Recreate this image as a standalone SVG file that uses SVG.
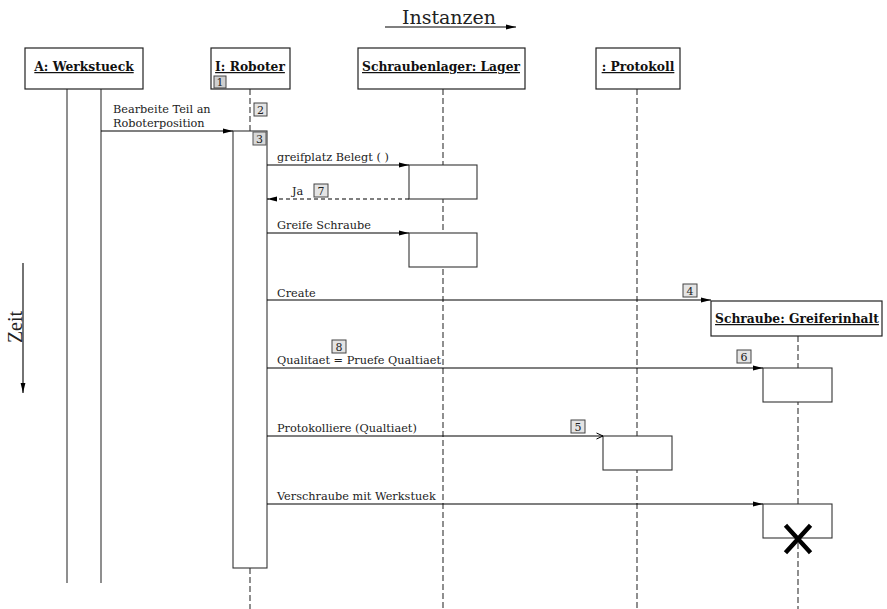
<svg xmlns="http://www.w3.org/2000/svg" width="887" height="609" viewBox="0 0 887 609">
  <defs>
    <marker id="arrowFilled" viewBox="0 0 10 6" refX="10" refY="3" markerWidth="10" markerHeight="6" markerUnits="userSpaceOnUse" orient="auto">
      <path d="M0,0.6 L10,3 L0,5.4 Z" fill="#000"/>
    </marker>
    <marker id="arrowOpen" viewBox="0 0 8 8" refX="7.5" refY="4" markerWidth="8" markerHeight="8" markerUnits="userSpaceOnUse" orient="auto">
      <path d="M1,1 L7.5,4 L1,7" fill="none" stroke="#000" stroke-width="1"/>
    </marker>
  </defs>
  <style>
    .box { fill: #fff; stroke: #222; stroke-width: 1.2; }
    .act { fill: #fff; stroke: #333; stroke-width: 1.1; }
    .life { stroke: #333; stroke-width: 1.1; stroke-dasharray: 6 3; fill: none; }
    .solid { stroke: #333; stroke-width: 1.1; fill: none; }
    .msg { stroke: #000; stroke-width: 1.1; fill: none; marker-end: url(#arrowFilled); }
    .ret { stroke: #000; stroke-width: 1.1; fill: none; stroke-dasharray: 4 3; marker-end: url(#arrowFilled); }
    .title { font-family: "DejaVu Serif", "Liberation Serif", serif; font-weight: bold; font-size: 12.3px; fill: #111; text-decoration: underline; }
    .label { font-family: "DejaVu Serif", "Liberation Serif", serif; font-size: 11.3px; fill: #222; }
    .big { font-family: "DejaVu Serif", "Liberation Serif", serif; font-size: 19px; fill: #222; }
    .time { font-family: "Liberation Serif", "DejaVu Serif", serif; font-size: 20px; fill: #222; }
    .numbox { fill: #e4e4e4; stroke: #444; stroke-width: 1; }
    .num { font-family: "DejaVu Serif", "Liberation Serif", serif; font-size: 11px; fill: #222; text-anchor: middle; }
  </style>

  <rect width="887" height="609" fill="#fff"/>

  <!-- axis labels -->
  <g id="axis-instanzen">
    <text class="big" x="449" y="24" text-anchor="middle">Instanzen</text>
    <line x1="385" y1="27" x2="516" y2="27" stroke="#000" stroke-width="1.1" marker-end="url(#arrowFilled)"/>
  </g>
  <g id="axis-zeit">
    <text class="time" transform="translate(22,327) rotate(-90)" text-anchor="middle">Zeit</text>
    <line x1="23" y1="263" x2="23" y2="393" stroke="#000" stroke-width="1.1" marker-end="url(#arrowFilled)"/>
  </g>

  <!-- lifelines -->
  <g id="lifelines">
    <line class="solid" x1="67" y1="89" x2="67" y2="583"/>
    <line class="solid" x1="101" y1="89" x2="101" y2="583"/>
    <line class="life" x1="250" y1="89" x2="250" y2="131"/>
    <line class="life" x1="250" y1="568" x2="250" y2="609"/>
    <line class="life" x1="443" y1="89" x2="443" y2="609"/>
    <line class="life" x1="637" y1="89" x2="637" y2="609"/>
    <line class="life" x1="798" y1="336" x2="798" y2="609"/>
  </g>

  <!-- objects -->
  <g id="werkstueck">
    <rect class="box" x="25" y="48" width="118" height="41"/>
    <text class="title" x="84" y="71" text-anchor="middle">A: Werkstueck</text>
  </g>
  <g id="roboter">
    <rect class="box" x="211" y="48" width="79" height="41"/>
    <text class="title" x="250" y="71" text-anchor="middle">I: Roboter</text>
    <rect class="act" x="233" y="131" width="34" height="437"/>
  </g>
  <g id="schraubenlager">
    <rect class="box" x="358" y="48" width="167" height="41"/>
    <text class="title" x="441" y="71" text-anchor="middle">Schraubenlager: Lager</text>
    <rect class="act" x="409" y="165" width="68" height="34"/>
    <rect class="act" x="409" y="233" width="68" height="34"/>
  </g>
  <g id="protokoll">
    <rect class="box" x="596" y="48" width="84" height="41"/>
    <text class="title" x="638" y="71" text-anchor="middle">: Protokoll</text>
    <rect class="act" x="603" y="436" width="69" height="34"/>
  </g>
  <g id="schraube">
    <rect class="box" x="711" y="301" width="171" height="35"/>
    <text class="title" x="797" y="323" text-anchor="middle">Schraube: Greiferinhalt</text>
    <rect class="act" x="763" y="368" width="69" height="34"/>
    <rect class="act" x="763" y="504" width="69" height="34"/>
    <path d="M787,527 L809,551 M809,527 L787,551" stroke="#000" stroke-width="4.5" stroke-linecap="square"/>
  </g>

  <!-- messages -->
  <g id="connectors">
    <line class="msg" x1="101" y1="131" x2="233" y2="131"/>
    <line class="msg" x1="267" y1="165" x2="409" y2="165"/>
    <line class="ret" x1="409" y1="199" x2="267" y2="199"/>
    <line class="msg" x1="267" y1="233" x2="409" y2="233"/>
    <line class="msg" x1="267" y1="300" x2="711" y2="300"/>
    <line class="msg" x1="267" y1="368" x2="763" y2="368"/>
    <line x1="267" y1="436" x2="603" y2="436" stroke="#000" stroke-width="1.1" marker-end="url(#arrowOpen)"/>
    <line class="msg" x1="267" y1="504" x2="763" y2="504"/>
  </g>

  <!-- message labels -->
  <g id="labels">
    <text class="label" x="113" y="113">Bearbeite Teil an</text>
    <text class="label" x="113" y="127">Roboterposition</text>
    <text class="label" x="277" y="161">greifplatz Belegt ( )</text>
    <text class="label" x="292" y="195">Ja</text>
    <text class="label" x="277" y="229">Greife Schraube</text>
    <text class="label" x="277" y="297">Create</text>
    <text class="label" x="277" y="364">Qualitaet = Pruefe Qualtiaet</text>
    <text class="label" x="277" y="432">Protokolliere (Qualtiaet)</text>
    <text class="label" x="277" y="500">Verschraube mit Werkstuek</text>
  </g>

  <!-- step numbers -->
  <g id="steps">
    <rect class="numbox" x="214" y="76" width="12" height="12" style="fill:#cfcfcf"/>
    <text class="num" x="220" y="86">1</text>
    <rect class="numbox" x="254" y="103" width="13" height="13"/>
    <text class="num" x="260.5" y="114">2</text>
    <rect class="numbox" x="253" y="132" width="13" height="13" style="fill:#d8d8d8;stroke:#555"/>
    <text class="num" x="259.5" y="143">3</text>
    <rect class="numbox" x="683" y="284" width="14" height="13"/>
    <text class="num" x="690" y="295">4</text>
    <rect class="numbox" x="571" y="420" width="14" height="13"/>
    <text class="num" x="578" y="431">5</text>
    <rect class="numbox" x="737" y="350" width="14" height="13"/>
    <text class="num" x="744" y="361">6</text>
    <rect class="numbox" x="314" y="184" width="14" height="13"/>
    <text class="num" x="321" y="195">7</text>
    <rect class="numbox" x="332" y="340" width="14" height="13"/>
    <text class="num" x="339" y="351">8</text>
  </g>
</svg>
